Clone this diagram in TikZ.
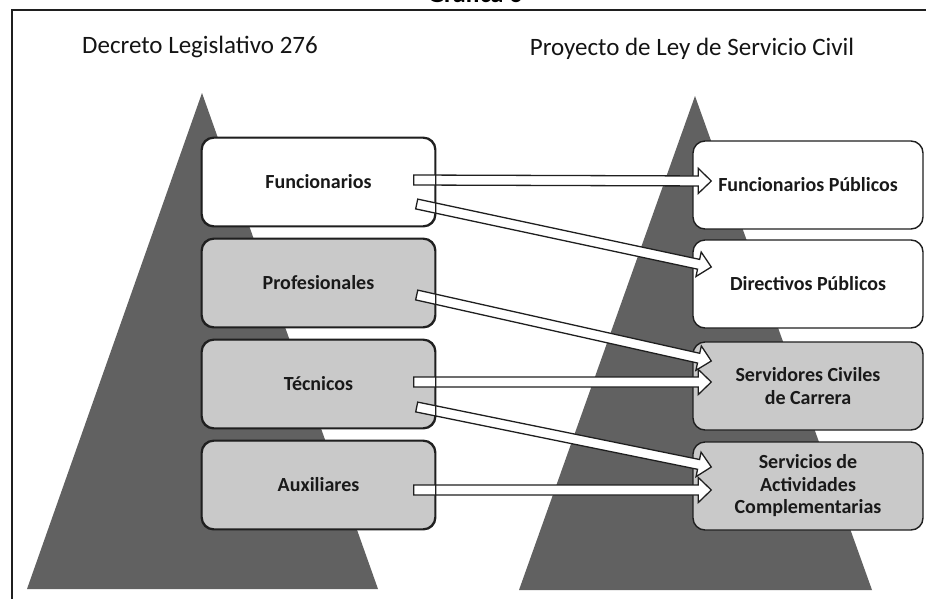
\documentclass[tikz,border=0pt]{standalone}
\usepackage{fontspec}
\setmainfont{Carlito}
\usetikzlibrary{calc}
\definecolor{pyr}{gray}{0.38}
\definecolor{lbg}{gray}{0.79}
\definecolor{edge}{gray}{0.12}
\tikzset{
  box/.style={draw=edge, line width=1.4pt, rounded corners=12pt, minimum height=88pt,
    font=\bfseries\fontsize{20}{22.5}\selectfont, align=center, inner sep=0pt, text=black!90},
  lbox/.style={box, minimum width=233pt},
  rbox/.style={box, minimum width=230pt},
  white box/.style={fill=white},
  grey box/.style={fill=lbg},
  pyramid/.style={fill=pyr, draw=none},
  blk/.style={draw=edge, line width=1.3pt, fill=white, line join=miter},
  heading/.style={font=\fontsize{25}{30}\selectfont, anchor=base, inner sep=0pt, text=black!92},
  frameline/.style={draw=edge, line width=1.1pt},
  outline/.style={draw=edge, line width=1.4pt, rounded corners=12pt},
}
\newcommand\blkarrow[2]{%
  \path let \p1=#1, \p2=#2,
    \n1={atan2(\y2-\y1,\x2-\x1)}, \n2={veclen(\x2-\x1,\y2-\y1)} in
    \pgfextra{\xdef\blkang{\n1}\xdef\blklen{\n2}\xdef\blkx{\x1}\xdef\blky{\y1}};
  \draw[blk, shift={(\blkx,\blky)}, rotate=\blkang]
    (0,-5) -- ({\blklen-13},-5) -- ({\blklen-13},-12.5) -- (\blklen,0)
    -- ({\blklen-13},12.5) -- ({\blklen-13},5) -- (0,5) -- cycle;
}
\begin{document}
\begin{tikzpicture}[x=1pt, y=-1pt]
\useasboundingbox (0,0) rectangle (926,598);
\clip (0,0) rectangle (926,598);
\fill[white] (0,0) rectangle (926,598);
% frame
\draw[frameline] (12,640) -- (12,10) -- (960,10);
% heading over the frame (clipped as in the scan)
\node[font=\bfseries\fontsize{26}{30}\selectfont, anchor=base, inner sep=0pt] (graf) at (475,2) {Gráfica 6};
% titles
\node[heading] (t1) at (200,53) {Decreto Legislativo 276};
\node[heading] (t2) at (692,55) {Proyecto de Ley de Servicio Civil};
% pyramids
\fill[pyramid] (202,93) -- (378,589) -- (27,589) -- cycle;
\fill[pyramid] (695,96) -- (872,590) -- (519,590) -- cycle;
% left boxes
\node[lbox, white box] (F) at (318.5,182) {Funcionarios};
\node[lbox, grey box]  (P) at (318.5,283) {Profesionales};
\node[lbox, grey box]  (T) at (318.5,384) {Técnicos};
\node[lbox, grey box]  (A) at (318.5,485) {Auxiliares};
% right boxes
\node[rbox, white box] (FP) at (808,185) {Funcionarios Públicos};
\node[rbox, white box] (D)  at (808,284) {Directivos Públicos};
\node[rbox, grey box]  (S)  at (808,386) {Servidores Civiles\\de Carrera};
\node[rbox, grey box]  (SA) at (808,486) {Servicios de\\Actividades\\Complementarias};
% arrows
\blkarrow{($(F.east)+(-22,-2)$)}{($(FP.west)+(19,-4)$)}
\blkarrow{($(F.east)+(-19,22)$)}{($(D.west)+(19,-17)$)}
\blkarrow{($(P.east)+(-19,12)$)}{($(S.west)+(19,-25)$)}
\blkarrow{($(T.east)+(-22,-2)$)}{($(S.west)+(19,-4)$)}
\blkarrow{($(T.east)+(-19,23)$)}{($(SA.west)+(19,-19)$)}
\blkarrow{($(A.east)+(-22,5)$)}{($(SA.west)+(19,4)$)}
% left box outlines shown over the arrow tails
\foreach \b in {F,P,T,A}{
  \draw[outline] (\b.north west) rectangle (\b.south east);
}
\end{tikzpicture}
\end{document}
